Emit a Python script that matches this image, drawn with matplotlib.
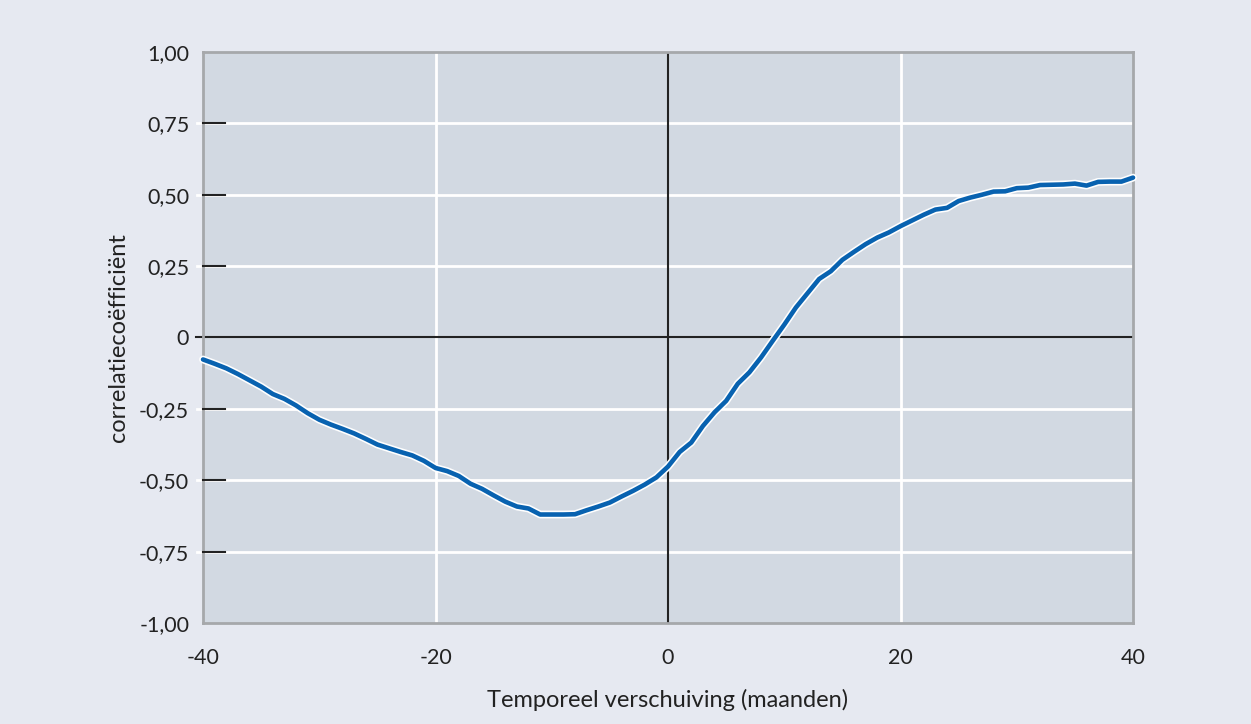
import matplotlib
matplotlib.use('Agg')
import matplotlib.pyplot as plt
import matplotlib.patheffects as pe
import matplotlib.transforms as mtransforms

# months of shift and the correlation
months = list(range(-40, 41))
corr = [-0.077, -0.092, -0.108, -0.128, -0.150, -0.172, -0.198, -0.215, -0.238, -0.265,
        -0.288, -0.305, -0.320, -0.336, -0.355, -0.375, -0.388, -0.401, -0.413, -0.432,
        -0.457, -0.468, -0.485, -0.512, -0.530, -0.553, -0.575, -0.592, -0.599, -0.620,
        -0.620, -0.620, -0.619, -0.605, -0.592, -0.578, -0.557, -0.537, -0.515, -0.490,
        -0.452, -0.401, -0.368, -0.310, -0.262, -0.222, -0.162, -0.122, -0.070, -0.012,
        0.045, 0.105, 0.155, 0.205, 0.232, 0.272, 0.300, 0.327, 0.350, 0.368,
        0.390, 0.410, 0.430, 0.448, 0.454, 0.478, 0.490, 0.500, 0.511, 0.512,
        0.523, 0.525, 0.534, 0.535, 0.536, 0.539, 0.532, 0.545, 0.546, 0.546,
        0.560]

xticks = [-40, -20, 0, 20, 40]
xticklabels = ['-40', '-20', '0', '20', '40']
yticks = [-1.0, -0.75, -0.5, -0.25, 0, 0.25, 0.5, 0.75, 1.0]
yticklabels = ['-1,00', '-0,75', '-0,50', '-0,25', '0', '0,25', '0,50', '0,75', '1,00']

plt.rcParams['font.family'] = ['Lato', 'DejaVu Sans']

fig = plt.figure(figsize=(12.51, 7.24), dpi=100, facecolor='#e6e9f1')
ax = fig.add_axes([0.1623, 0.1395, 0.7434, 0.7887])
ax.set_facecolor('#d2d9e2')
ax.set_xlim(-40, 40)
ax.set_ylim(-1, 1)

# grid lines
for y in yticks[1:-1]:
    if y == 0:
        continue
    ax.axhline(y, color='white', lw=2, zorder=1)
for x in [-20, 20]:
    ax.axvline(x, color='white', lw=2, zorder=1)
ax.axvline(0, color='#222222', lw=1.5, zorder=2)

# zero line sticks out a bit left of the frame
trans = mtransforms.blended_transform_factory(ax.transAxes, ax.transData)
ax.plot([-0.008, 1], [0, 0], transform=trans, color='#222222', lw=1.5, zorder=2, clip_on=False)

# short black ticks inside the frame
for y in yticks[1:-1]:
    if y == 0:
        continue
    ax.plot([-0.007, 0.0], [y, y], transform=trans, color='white', lw=2, zorder=1, clip_on=False)
    ax.plot([0, 0.024], [y, y], transform=trans, color='#222222', lw=1.5, zorder=3, clip_on=False)

ax.plot(months, corr, color='#0862b0', lw=3.3, zorder=5, solid_capstyle='round',
        path_effects=[pe.Stroke(linewidth=5.6, foreground='white'), pe.Normal()],
        clip_on=False)

ax.set_xticks(xticks)
ax.set_xticklabels(xticklabels)
ax.set_yticks(yticks)
ax.set_yticklabels(yticklabels)
ax.tick_params(axis='both', length=0, labelsize=15.5, colors='#222222')
ax.tick_params(axis='x', pad=18)
ax.tick_params(axis='y', pad=10)

for s in ax.spines.values():
    s.set_color('#a6a8ab')
    s.set_linewidth(2)

ax.set_xlabel('Temporeel verschuiving (maanden)', fontsize=17, color='#222222', va='center')
ax.set_ylabel('correlatiecoëfficiënt', fontsize=17, color='#222222', va='center')
ax.xaxis.set_label_coords(0.5, -0.135)
ax.yaxis.set_label_coords(-0.0914, 0.5)

fig.savefig('out.png', dpi=100, facecolor=fig.get_facecolor())
